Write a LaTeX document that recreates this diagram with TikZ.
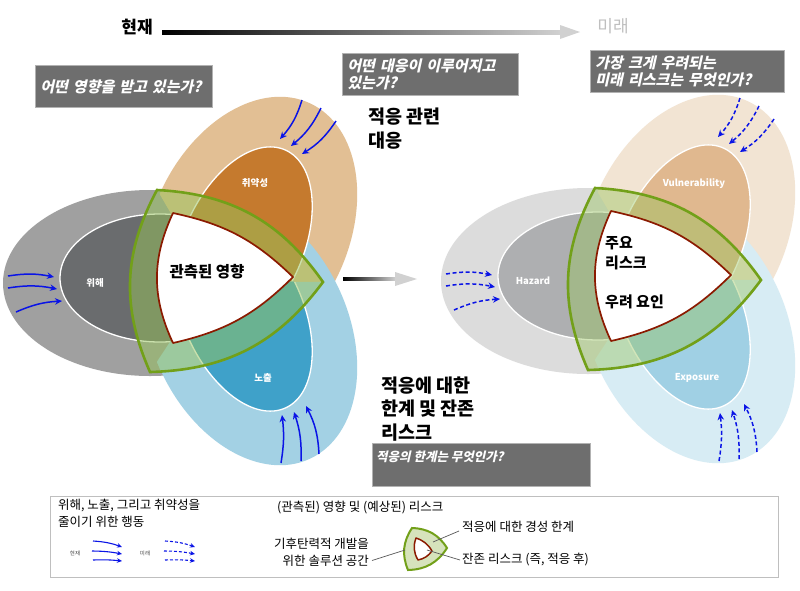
\documentclass[tikz,border=0pt]{standalone}
\usepackage{fontspec}
\usetikzlibrary{arrows.meta,calc}
\newfontfamily\kr{Noto Sans CJK KR}
\newfontfamily\krit[FakeSlant=0.22]{Noto Sans CJK KR}
\definecolor{hzO}{HTML}{A0A0A0}
\definecolor{hzI}{HTML}{6A6C6E}
\definecolor{vuO}{HTML}{E2BF94}
\definecolor{vuI}{HTML}{C57A2E}
\definecolor{exO}{HTML}{A3D1E4}
\definecolor{exI}{HTML}{3FA1C9}
\definecolor{hzOf}{HTML}{DCDCDC}
\definecolor{hzIf}{HTML}{AEAFB1}
\definecolor{vuOf}{HTML}{F2E4D3}
\definecolor{vuIf}{HTML}{E0B88F}
\definecolor{exOf}{HTML}{D7ECF4}
\definecolor{exIf}{HTML}{A0D0E4}
\definecolor{bandG}{HTML}{96C35A}
\definecolor{bandLine}{HTML}{72A019}
\definecolor{redLine}{HTML}{8B1A00}
\definecolor{boxGray}{HTML}{6E6E6E}
\definecolor{arrBlue}{HTML}{0A14E6}
\definecolor{legG}{HTML}{D6E3BC}
\tikzset{
 ring/.style={draw=white,line width=1.3pt},
 sarr/.style={draw=arrBlue,line width=1.5pt,-{Stealth[length=7pt,width=6.5pt]}},
 darr/.style={sarr,dash pattern=on 4pt off 2.6pt},
 lsarr/.style={draw=arrBlue,line width=1.1pt,-{Stealth[length=5pt,width=4.5pt]}},
 ldarr/.style={lsarr,dash pattern=on 3pt off 2pt},
 qbox/.style={fill=boxGray,draw=black!30,line width=0.8pt,anchor=north west,text=white,align=left,inner xsep=5pt,inner ysep=0pt,font=\krit\bfseries\fontsize{15}{17}\selectfont},
 inlbl/.style={text=white,font=\kr\bfseries\fontsize{9.5}{11}\selectfont},
 bigt/.style={font=\kr\bfseries\fontsize{18.5}{23.5}\selectfont,align=left,anchor=west},
 legt/.style={font=\kr\fontsize{12.5}{17}\selectfont,align=left},
 tinylbl/.style={font=\kr\fontsize{5.5}{6}\selectfont,text=black!70},
 leader/.style={draw=black!65,line width=0.7pt},
}
% ellipse shapes of one diagram
\newcommand\vuOuter[1]{\fill[#1,shift={(250,232)},rotate=65] (0,0) ellipse[x radius=142,y radius=98];}
\newcommand\exOuter[1]{\fill[#1,shift={(250,330)},rotate=-65] (0,0) ellipse[x radius=142,y radius=98];}
\newcommand\hzOuter[1]{\fill[#1] (150,283) ellipse[x radius=147,y radius=93];}
\newcommand\vuInner[1]{\filldraw[fill=#1,ring,shift={(243,245)},rotate=66] (0,0) ellipse[x radius=104,y radius=60];}
\newcommand\exInner[1]{\filldraw[fill=#1,ring,shift={(243,313)},rotate=-66] (0,0) ellipse[x radius=104,y radius=60];}
\newcommand\hzInner[1]{\filldraw[fill=#1,ring] (160,278) ellipse[x radius=100,y radius=64];}
\newcommand\vennrisk[9]{%
 \coordinate (#1G) at (210,281);
 \coordinate (#1A) at (157,190); \coordinate (#1B) at (323,282); \coordinate (#1C) at (150,372);
 \coordinate (#1a) at (173,213); \coordinate (#1b) at (293,277); \coordinate (#1c) at (173,343);
 \vuOuter{#4}\hzOuter{#2}\exOuter{#6}
 \vuInner{#5}\exInner{#7}\hzInner{#3}
 \begin{scope}
  \clip (#1A) to[bend left=26] (#1B) to[bend left=26] (#1C) to[bend left=26] (#1A) -- cycle;
  \begin{scope}
   \clip (#1G) -- (-2,-83) -- (662,-83) -- (662,285) -- cycle;
   \vuOuter{#4}\vuInner{#5}
  \end{scope}
  \begin{scope}
   \clip (#1G) -- (662,285) -- (662,700) -- (-30,700) -- (-30,645) -- cycle;
   \exOuter{#6}\exInner{#7}
  \end{scope}
  \begin{scope}
   \clip (#1G) -- (-30,645) -- (-200,645) -- (-200,-83) -- (-2,-83) -- cycle;
   \hzOuter{#2}\hzInner{#3}
  \end{scope}
 \end{scope}
 \fill[bandG,fill opacity=#9] (#1A) to[bend left=26] (#1B) to[bend left=26] (#1C) to[bend left=26] (#1A) -- cycle;
 \filldraw[fill=white,draw=redLine,line width=1.7pt,line join=round] (#1a) to[bend left=16] (#1b) to[bend left=16] (#1c) to[bend left=25] (#1a) -- cycle;
 \draw[bandLine,line width=2.6pt,line join=miter] (#1A) to[bend left=26] (#1B) to[bend left=26] (#1C) to[bend left=26] (#1A) -- cycle;
 \coordinate (#1h1s) at (8,276); \coordinate (#1h1e) at (54,277);
 \coordinate (#1h2s) at (8,288); \coordinate (#1h2e) at (57,289);
 \coordinate (#1h3s) at (16,312); \coordinate (#1h3e) at (62,301);
 \draw[#8] (#1h1s) to[bend left=10] (#1h1e);
 \draw[#8] (#1h2s) to[bend left=10] (#1h2e);
 \draw[#8] (#1h3s) to[bend left=10] (#1h3e);
 \coordinate (#1v1s) at (302,100); \coordinate (#1v1e) at (280,139);
 \coordinate (#1v2s) at (321,108); \coordinate (#1v2e) at (291,146);
 \coordinate (#1v3s) at (336,121); \coordinate (#1v3e) at (302,154);
 \draw[#8] (#1v1s) to[bend left=12] (#1v1e);
 \draw[#8] (#1v2s) to[bend left=12] (#1v2e);
 \draw[#8] (#1v3s) to[bend left=12] (#1v3e);
 \coordinate (#1e1s) at (281,463); \coordinate (#1e1e) at (282,415);
 \coordinate (#1e2s) at (301,461); \coordinate (#1e2e) at (294,412);
 \coordinate (#1e3s) at (319,454); \coordinate (#1e3e) at (306,406);
 \draw[#8] (#1e1s) to[bend right=8] (#1e1e);
 \draw[#8] (#1e2s) to[bend right=10] (#1e2e);
 \draw[#8] (#1e3s) to[bend right=12] (#1e3e);
}
\begin{document}
\begin{tikzpicture}[x=1pt,y=-1pt,every node/.style={inner sep=0pt}]
\useasboundingbox (0,0) rectangle (800,590);
\fill[white] (0,0) rectangle (800,590);
% time axis
\node[font=\kr\bfseries\fontsize{17}{20}\selectfont] (now) at (137,27) {현재};
\node[font=\kr\fontsize{17}{20}\selectfont,text=black!25] (fut) at (613,26) {미래};
\coordinate (ts) at (162,32); \coordinate (te) at (562,32);
\shade[left color=black,right color=black!18] ($(ts)+(0,-2)$) rectangle ($(te)+(0,2)$);
\fill[black!18] ($(te)+(-2,-7)$) -- ($(te)+(18,0)$) -- ($(te)+(-2,7)$) -- cycle;
% diagrams
\vennrisk{L}{hzO}{hzI}{vuO}{vuI}{exO}{exI}{sarr}{0.5}
\begin{scope}[shift={(438,-2)}]
\vennrisk{R}{hzOf}{hzIf}{vuOf}{vuIf}{exOf}{exIf}{darr}{0.42}
\end{scope}
% middle arrow
\coordinate (ms) at (343,279); \coordinate (me) at (396,279);
\shade[left color=black,right color=black!18] ($(ms)+(0,-1.6)$) rectangle ($(me)+(0,1.6)$);
\fill[black!18] ($(me)+(-1,-7)$) -- ($(me)+(21,0)$) -- ($(me)+(-1,7)$) -- cycle;
% labels in ellipses
\node[inlbl] (lh) at (95,283) {위해};
\node[inlbl] (lv) at (255,183) {취약성};
\node[inlbl] (le) at (263,378) {노출};
\node[inlbl] (rh) at (533,281) {Hazard};
\node[inlbl] (rv) at (694,184) {Vulnerability};
\node[inlbl] (re) at (697,378) {Exposure};
\node[font=\kr\bfseries\fontsize{15.5}{18}\selectfont] (obs) at (207,272) {관측된 영향};
\node[font=\kr\bfseries\fontsize{15}{20}\selectfont,align=left,anchor=west] (kr1) at (605,253) {주요\\리스크};
\node[font=\kr\bfseries\fontsize{15}{20}\selectfont,anchor=west] (kr2) at (605,302) {우려 요인};
% big texts
\node[bigt] (adapt) at (368,128.5) {적응 관련\\대응};
\node[bigt] (limits) at (381,409) {적응에 대한\\한계 및 잔존\\리스크};
% question boxes
\node[qbox,text width=167pt,minimum height=42pt] (q1) at (35,65) {어떤 영향을 받고 있는가?};
\node[qbox,text width=166pt,minimum height=42pt] (q2) at (342,53) {어떤 대응이 이루어지고\\있는가?};
\node[qbox,text width=184pt,minimum height=42pt] (q3) at (590,50) {가장 크게 우려되는\\미래 리스크는 무엇인가?};
\node[qbox,minimum width=218pt,minimum height=43pt] (q4) at (372,443) {};
\node[font=\krit\bfseries\fontsize{12.5}{14}\selectfont,text=white,anchor=west] (q4t) at (376,457) {적응의 한계는 무엇인가?};
% legend
\node[draw=black!25,line width=0.8pt,minimum width=728pt,minimum height=81pt,anchor=north west] (legbox) at (50,496) {};
\node[legt,anchor=west] (l1) at (58,513.5) {위해, 노출, 그리고 취약성을\\줄이기 위한 행동};
\node[tinylbl] (lnow) at (75,553) {현재};
\node[tinylbl] (lfut) at (145,553) {미래};
\coordinate (a1s) at (93,541); \coordinate (a1e) at (122,547);
\coordinate (a2s) at (92,551); \coordinate (a2e) at (122,554);
\coordinate (a3s) at (93,560); \coordinate (a3e) at (122,561);
\draw[lsarr] (a1s) to[bend left=8] (a1e);
\draw[lsarr] (a2s) to[bend left=5] (a2e);
\draw[lsarr] (a3s) to[bend left=4] (a3e);
\coordinate (b1s) at (165,541); \coordinate (b1e) at (195,547);
\coordinate (b2s) at (164,551); \coordinate (b2e) at (195,554);
\coordinate (b3s) at (165,560); \coordinate (b3e) at (195,561);
\draw[ldarr] (b1s) to[bend left=8] (b1e);
\draw[ldarr] (b2s) to[bend left=5] (b2e);
\draw[ldarr] (b3s) to[bend left=4] (b3e);
\node[legt,anchor=west] (l2) at (277,508) {(관측된) 영향 및 (예상된) 리스크};
\node[legt,anchor=east,align=right] (l3) at (369,552.5) {기후탄력적 개발을\\위한 솔루션 공간};
\node[legt,anchor=west] (l4) at (462,527) {적응에 대한 경성 한계};
\node[legt,anchor=west] (l5) at (462,560) {잔존 리스크 (즉, 적응 후)};
\coordinate (P) at (412,528); \coordinate (Q) at (447,548); \coordinate (R) at (408,570);
\coordinate (p) at (416,538); \coordinate (q) at (432,551); \coordinate (r) at (418,560);
\filldraw[fill=legG,draw=bandLine,line width=2pt,line join=miter] (P) to[bend left=28] (Q) to[bend left=28] (R) to[bend left=28] (P) -- cycle;
\filldraw[fill=white,draw=redLine,line width=1.5pt,line join=round] (p) to[bend left=20] (q) to[bend left=20] (r) to[bend left=25] (p) -- cycle;
\coordinate (k1) at (433,542); \coordinate (k2) at (427,550); \coordinate (k3) at (405,550);
\draw[leader] ([shift={(-3,4)}]l4.west) -- (k1);
\draw[leader] ([xshift=-2pt]l5.west) -- (k2);
\draw[leader] ([shift={(3,8)}]l3.east) -- (k3);
\end{tikzpicture}
\end{document}
